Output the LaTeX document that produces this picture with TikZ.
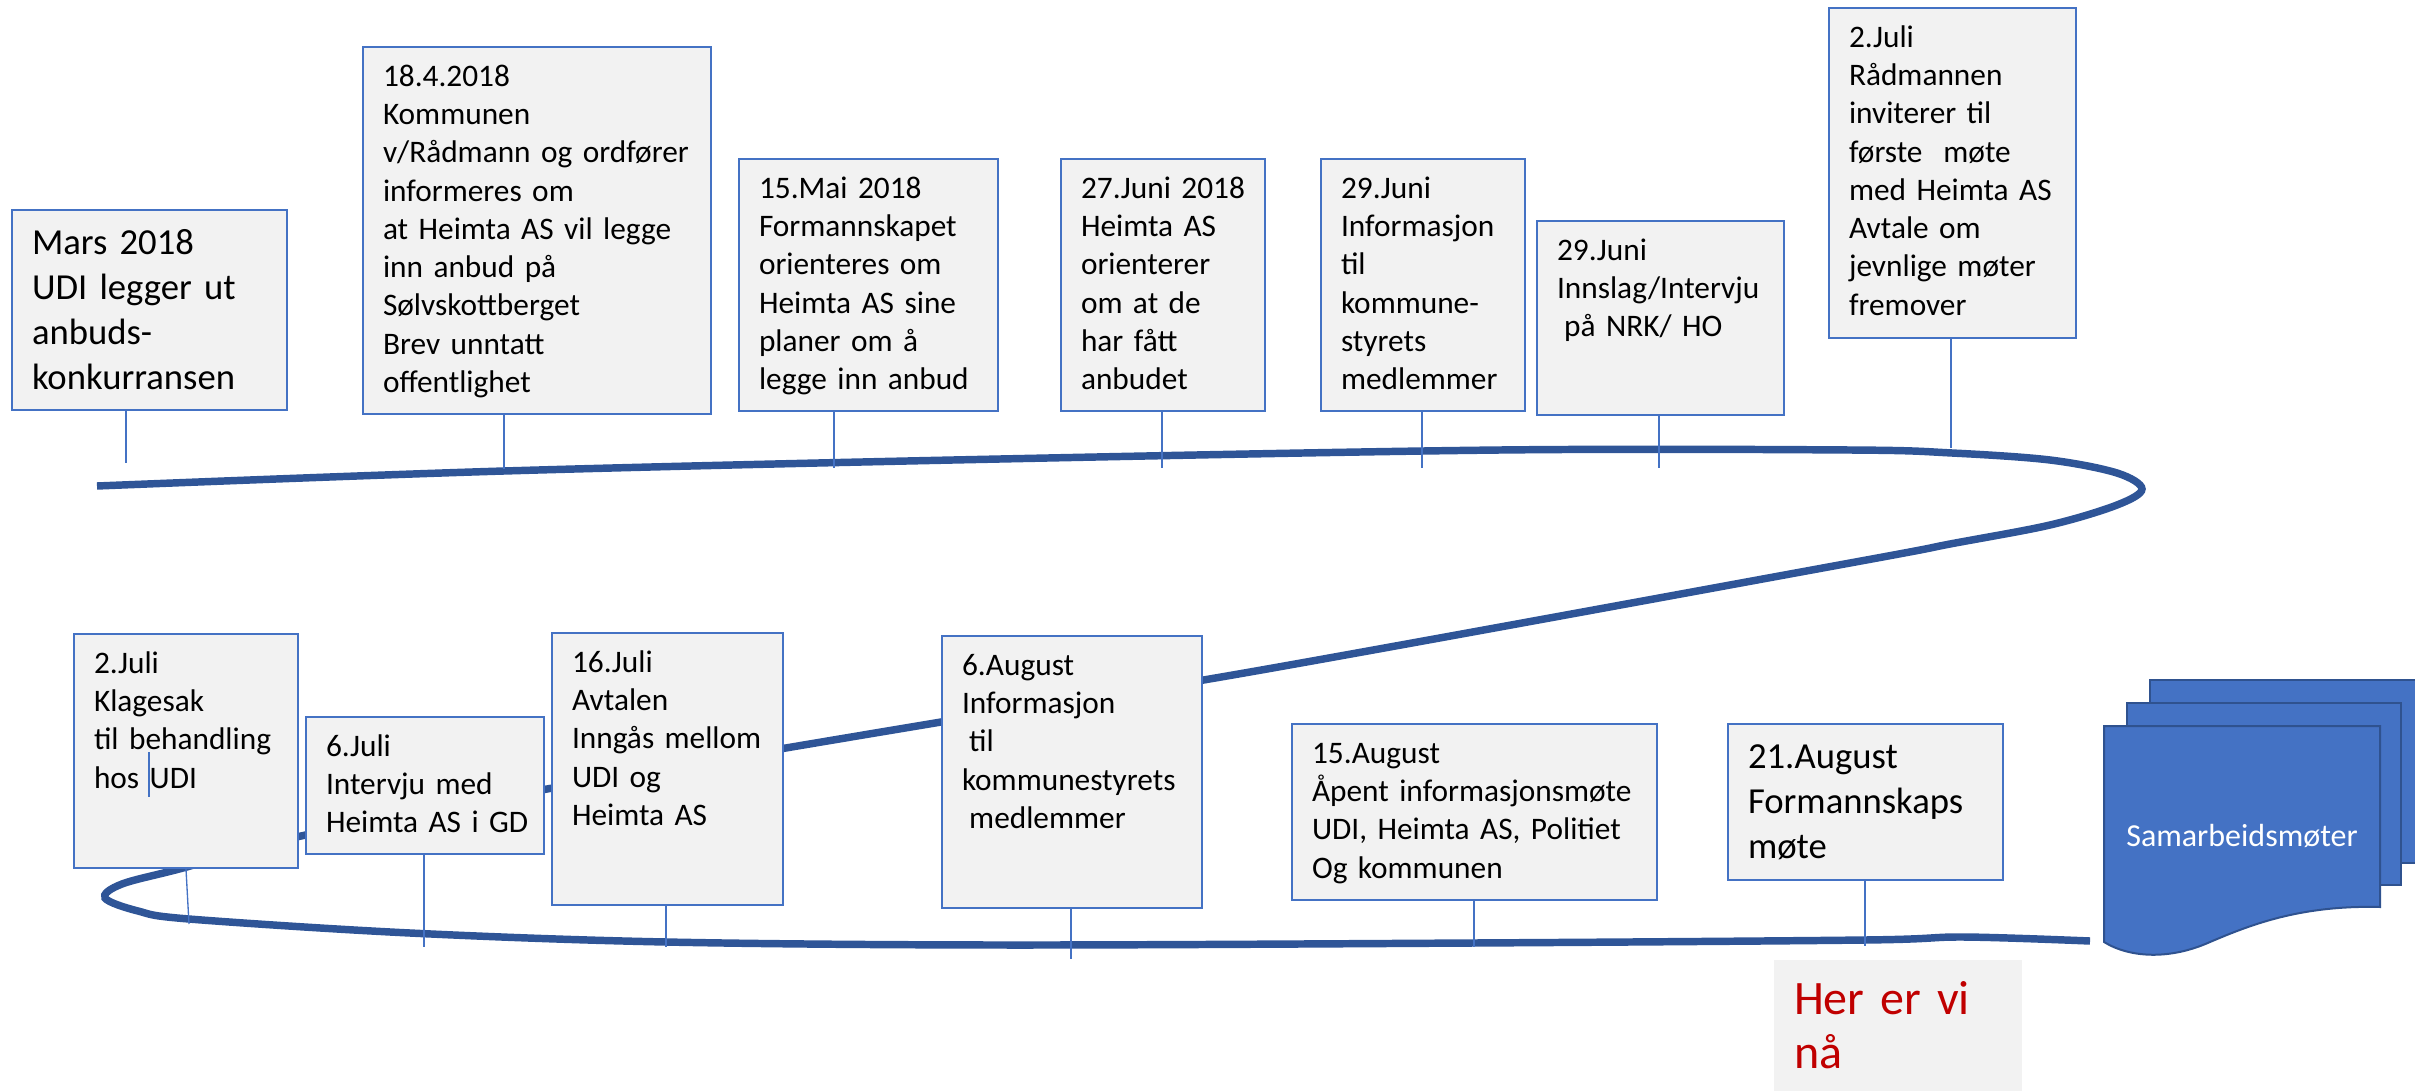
\documentclass[tikz,border=0pt]{standalone}
\usepackage{fontspec}
\setmainfont{Carlito}
\hyphenpenalty=10000
\definecolor{mblue}{HTML}{4472C4}
\definecolor{mdark}{HTML}{2F5597}
\definecolor{mline}{HTML}{2F528F}
\definecolor{mgrey}{HTML}{F2F2F2}
\definecolor{mred}{HTML}{C00000}
\tikzset{event/.style = {draw=mblue, line width=1.5pt, fill=mgrey, anchor=north west,
                         align=left, inner xsep=15pt, inner ysep=0pt, text height=29.5pt,
                         font=\fontsize{23.5}{28.7}\selectfont}}
\tikzset{bigevent/.style = {event, text height=33pt, font=\fontsize{27.5}{33.75}\selectfont}}
\tikzset{tick/.style = {draw=mblue, line width=1pt}}
\tikzset{timeline/.style = {draw=mdark, line width=5.6pt}}
\tikzset{doc/.style = {fill=mblue, draw=mline, line width=1.5pt}}

\begin{document}
\begin{tikzpicture}[x=0.75pt, y=-0.75pt]
    \useasboundingbox (0, 0) rectangle (2415, 1091);

    \draw [timeline] plot [smooth, tension=0.55] coordinates {(97, 486) (504, 471) (1000, 459) (1500, 450) (1850, 450) (1952, 453) (2050, 460) (2117, 473) (2142, 489) (2117, 505) (2050, 525) (1950, 544) (1850, 563) (1250, 672) (941, 722) (547, 789) (301, 836) (183, 868) (122, 884) (105, 898) (138, 911) (189, 919) (410, 933) (666, 942) (1000, 945) (1473, 943) (1865, 940) (1963, 937) (2090, 941)};

    \node (m1) at (11, 209) [bigevent, text width=176pt, text depth=117pt] {Mars~2018\\UDI~legger~ut\\anbuds-\\konkurransen};
    \node (m2) at (362, 46) [event, text width=231pt, text depth=245.75pt] {18.4.2018\\Kommunen\\v/Rådmann~og~ordfører\\informeres~om\\at~Heimta~AS~vil~legge\\inn~anbud~på\\Sølvskottberget\\Brev~unntatt\\offentlighet};
    \node (m3) at (738, 158) [event, text width=164.25pt, text depth=159.5pt] {15.Mai~2018\\Formannskapet\\orienteres~om\\Heimta~AS~sine\\planer~om~å\\legge~inn~anbud};
    \node (m4) at (1060, 158) [event, text width=123pt, text depth=159.5pt] {27.Juni~2018\\Heimta~AS\\orienterer\\om~at~de\\har~fått\\anbudet};
    \node (m5) at (1320, 158) [event, text width=123pt, text depth=159.5pt] {29.Juni\\Informasjon\\til\\kommune-\\styrets\\medlemmer};
    \node (m6) at (1536, 220) [event, text width=155.25pt, text depth=116pt] {29.Juni\\Innslag/Intervju\\\hspace*{.23em}på~NRK/~HO};
    \node (m7) at (1828, 7) [event, text width=155.25pt, text depth=218pt] {2.Juli\\Rådmannen\\inviterer~til\\første~~møte\\med~Heimta~AS\\Avtale~om\\jevnlige~møter\\fremover};

    \node (b1) at (73, 633) [event, text width=138pt, text depth=146pt] {2.Juli\\Klagesak\\til~behandling\\hos~UDI};
    \node (b2) at (305, 716) [event, text width=148.5pt, text depth=73.25pt] {6.Juli\\Intervju~med\\Heimta~AS~i~GD};
    \node (b3) at (551, 632) [event, text width=143.25pt, text depth=174.5pt] {16.Juli\\Avtalen\\Inngås~mellom\\UDI~og\\Heimta~AS};
    \node (b4) at (941, 635) [event, text width=165pt, text depth=174.5pt] {6.August\\Informasjon\\\hspace*{.23em}til\\kommunestyrets\\\hspace*{.23em}medlemmer};
    \node (b5) at (1291, 723) [event, text width=243.75pt, text depth=102.5pt] {15.August\\Åpent~informasjonsmøte\\UDI,~Heimta~AS,~Politiet\\Og~kommunen};
    \node (b6) at (1727, 723) [bigevent, text width=176.25pt, text depth=84pt] {21.August\\Formannskaps\\møte};
    \node (now) at (1773, 959) [event, draw=none, text=mred, text height=40.5pt, text depth=58.5pt, text width=156pt, font=\fontsize{36}{41}\selectfont] {Her~er~vi\\nå};

    \coordinate (c1) at (126, 463);
    \coordinate (c2) at (504, 469);
    \coordinate (c3) at (834, 468);
    \coordinate (c4) at (1162, 468);
    \coordinate (c5) at (1422, 468);
    \coordinate (c6) at (1659, 468);
    \coordinate (c7) at (1951, 448);
    \draw [tick] (c1 |- m1.south) -- (c1);
    \draw [tick] (c2 |- m2.south) -- (c2);
    \draw [tick] (c3 |- m3.south) -- (c3);
    \draw [tick] (c4 |- m4.south) -- (c4);
    \draw [tick] (c5 |- m5.south) -- (c5);
    \draw [tick] (c6 |- m6.south) -- (c6);
    \draw [tick] (c7 |- m7.south) -- (c7);

    \coordinate (d1) at (189, 924);
    \coordinate (d2) at (424, 947);
    \coordinate (d3) at (666, 947);
    \coordinate (d4) at (1071, 959);
    \coordinate (d5) at (1474, 947);
    \coordinate (d6) at (1865, 946);
    \draw [tick] (b1.south) -- (d1);
    \draw [tick] (d2 |- b2.south) -- (d2);
    \draw [tick] (d3 |- b3.south) -- (d3);
    \draw [tick] (d4 |- b4.south) -- (d4);
    \draw [tick] (d5 |- b5.south) -- (d5);
    \draw [tick] (d6 |- b6.south) -- (d6);
    \draw [tick] (b1.south west) ++(76, -117) -- ++(0, 45);

    \draw [doc] (2150, 863) -- (2150, 680) -- (2418, 680) -- (2418, 863) -- cycle;
    \draw [doc] (2127, 885) -- (2127, 703) -- (2401, 703) -- (2401, 885) -- cycle;
    \draw [doc] (2104, 942) -- (2104, 726) -- (2380, 726) -- (2380, 907)
        .. controls (2300, 905) and (2250, 925) .. (2210, 942)
        .. controls (2170, 960) and (2130, 958) .. (2104, 942) -- cycle;
    \node (sam) at (2242, 836) [text=white, font=\fontsize{24}{28}\selectfont] {Samarbeidsmøter};
\end{tikzpicture}
\end{document}
